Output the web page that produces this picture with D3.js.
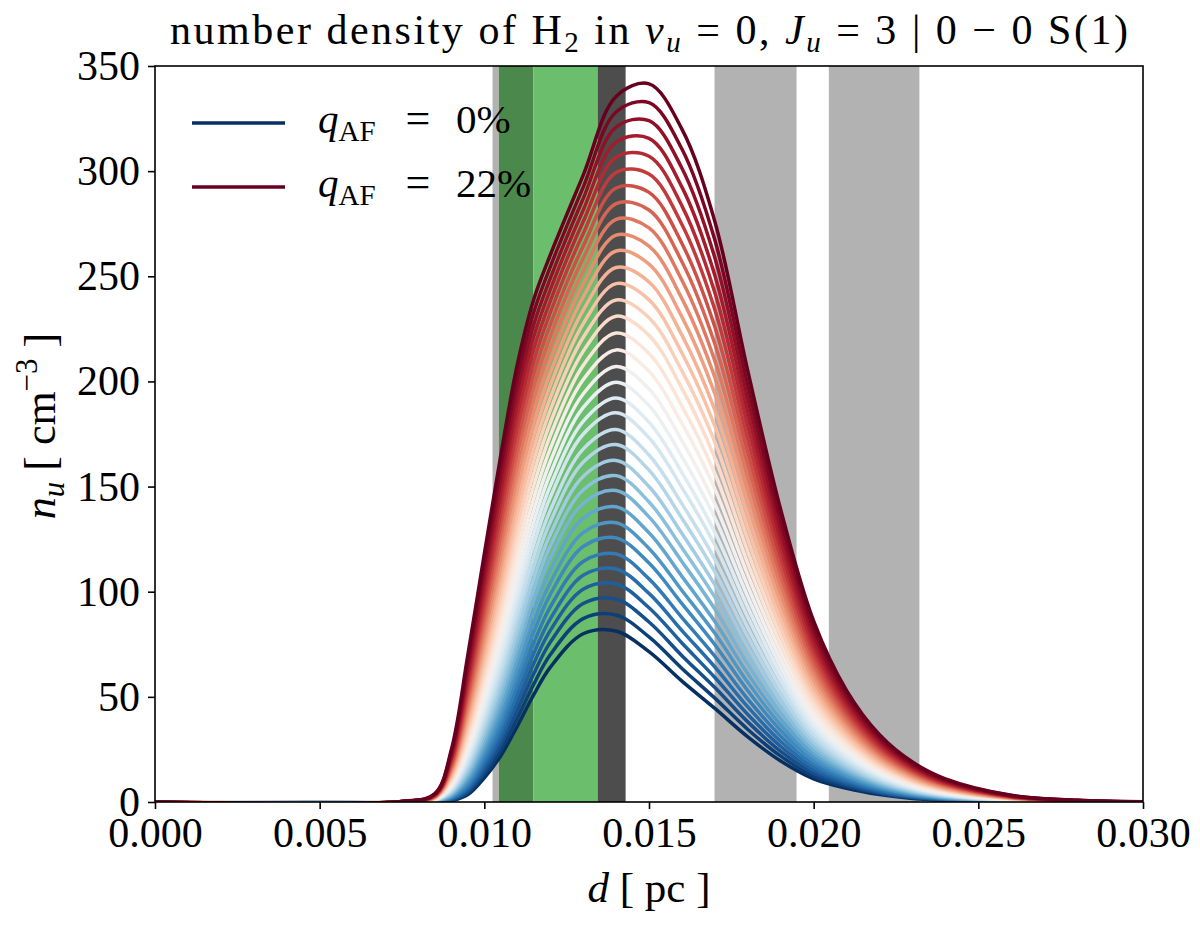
<!DOCTYPE html>
<html>
<head>
<meta charset="utf-8">
<script src="https://cdn.jsdelivr.net/npm/d3@7"></script>
<style>
  body { margin: 0; background: #fff; }
  text { font-family: "Liberation Serif", "DejaVu Serif", serif; fill: #000; }
</style>
</head>
<body>
<svg id="chart" width="1200" height="929"></svg>
<script>
// distance grid [pc] shared by every curve
var dGrid = [0, 0.0075, 0.0085, 0.009, 0.0095, 0.010, 0.0105, 0.011, 0.0115, 0.012, 0.013, 0.014, 0.015,
             0.016, 0.017, 0.018, 0.019, 0.020, 0.021, 0.022, 0.023, 0.024, 0.026, 0.028, 0.030];

// n_u [cm^-3] for each curve, bottom (q_AF = 0%) to top (q_AF = 22%)
var nuCurves = [
  [0, 0, 0.1, 0.6, 3.5, 11.5, 22, 36, 51, 64, 80, 81.3, 71.5, 57.5, 44.5, 31, 19.5, 11, 6.5, 3.5, 1.7, 0.8, 0.2, 0, 0],
  [0, 0, 0.1, 0.8, 4.3, 13.1, 24.6, 39.8, 56.0, 70.0, 87.2, 88.9, 78.5, 63.5, 49.4, 34.5, 21.8, 12.3, 7.3, 4.0, 2.0, 0.9, 0.2, 0, 0],
  [0, 0, 0.2, 1.1, 5.1, 14.8, 27.4, 43.7, 61.0, 75.9, 94.4, 96.5, 85.6, 69.6, 54.4, 38.1, 24.1, 13.7, 8.2, 4.4, 2.2, 1.1, 0.2, 0, 0],
  [0, 0, 0.2, 1.4, 6.0, 16.6, 30.1, 47.5, 65.8, 81.5, 101.2, 103.7, 92.4, 75.6, 59.2, 41.6, 26.4, 15.1, 9.0, 4.9, 2.5, 1.2, 0.3, 0, 0],
  [0, 0, 0.3, 1.7, 6.9, 18.4, 32.8, 51.3, 70.6, 87.0, 107.8, 110.8, 99.2, 81.5, 64.2, 45.2, 28.8, 16.5, 9.9, 5.4, 2.8, 1.4, 0.3, 0, 0],
  [0, 0, 0.3, 2.0, 7.9, 20.3, 35.7, 55.3, 75.5, 92.7, 114.4, 118.0, 106.1, 87.7, 69.3, 48.9, 31.3, 18.0, 10.8, 6.0, 3.1, 1.6, 0.4, 0, 0],
  [0, 0, 0.4, 2.4, 9.0, 22.4, 38.9, 59.5, 80.7, 98.6, 121.5, 125.6, 113.6, 94.3, 74.8, 52.9, 34.0, 19.7, 11.8, 6.6, 3.4, 1.7, 0.4, 0.1, 0],
  [0, 0, 0.5, 2.8, 10.2, 24.5, 41.9, 63.6, 85.6, 104.2, 128.1, 132.8, 120.6, 100.6, 80.2, 56.9, 36.6, 21.2, 12.7, 7.1, 3.7, 1.9, 0.5, 0.1, 0],
  [0, 0, 0.5, 3.2, 11.5, 26.7, 45.2, 68.0, 90.8, 110.1, 135.0, 140.4, 128.0, 107.3, 85.8, 61.0, 39.4, 23.0, 13.8, 7.8, 4.1, 2.1, 0.5, 0.1, 0],
  [0, 0, 0.6, 3.7, 12.8, 29.1, 48.7, 72.4, 96.2, 116.1, 142.0, 148.1, 135.6, 114.3, 91.7, 65.4, 42.3, 24.7, 14.9, 8.4, 4.5, 2.3, 0.6, 0.1, 0],
  [0, 0, 0.7, 4.2, 14.2, 31.5, 52.0, 76.7, 101.2, 121.6, 148.4, 155.2, 142.7, 120.9, 97.4, 69.6, 45.1, 26.5, 15.9, 9.1, 4.9, 2.6, 0.6, 0.1, 0],
  [0, 0, 0.8, 4.7, 15.6, 33.9, 55.5, 81.1, 106.3, 127.2, 154.8, 162.4, 150.0, 127.7, 103.2, 73.9, 48.0, 28.3, 17.0, 9.7, 5.3, 2.8, 0.7, 0.1, 0],
  [0, 0, 0.8, 5.3, 17.2, 36.6, 59.2, 85.8, 111.7, 133.1, 161.6, 170.0, 157.8, 134.9, 109.4, 78.5, 51.2, 30.2, 18.2, 10.4, 5.7, 3.0, 0.8, 0.1, 0],
  [0, 0, 0.9, 5.8, 18.8, 39.2, 62.8, 90.3, 116.8, 138.6, 167.8, 177.1, 165.0, 141.8, 115.4, 82.9, 54.2, 32.1, 19.4, 11.1, 6.1, 3.3, 0.8, 0.2, 0],
  [0, 0, 1.0, 6.4, 20.5, 42.1, 66.8, 95.3, 122.5, 144.8, 174.9, 185.1, 173.2, 149.5, 122.1, 87.9, 57.6, 34.2, 20.7, 11.9, 6.6, 3.6, 0.9, 0.2, 0],
  [0, 0, 1.1, 7.1, 22.2, 44.9, 70.6, 100.0, 127.7, 150.2, 181.0, 192.1, 180.6, 156.6, 128.3, 92.6, 60.8, 36.2, 21.9, 12.7, 7.0, 3.8, 1.0, 0.2, 0],
  [0, 0.1, 1.2, 7.7, 24.1, 47.9, 74.7, 104.9, 133.2, 156.0, 187.5, 199.6, 188.5, 164.2, 135.0, 97.6, 64.2, 38.3, 23.2, 13.5, 7.5, 4.1, 1.1, 0.2, 0],
  [0, 0.1, 1.4, 8.4, 26.0, 51.0, 78.8, 110.0, 138.7, 161.8, 194.0, 207.1, 196.5, 171.9, 141.7, 102.6, 67.7, 40.5, 24.6, 14.3, 8.0, 4.4, 1.2, 0.2, 0],
  [0, 0.1, 1.5, 9.2, 28.0, 54.2, 83.2, 115.3, 144.5, 167.9, 200.8, 215.0, 204.8, 180.0, 148.9, 108.0, 71.3, 42.8, 26.0, 15.2, 8.5, 4.7, 1.3, 0.3, 0],
  [0, 0.1, 1.6, 10.0, 30.1, 57.6, 87.8, 120.7, 150.5, 174.1, 207.6, 223.0, 213.3, 188.3, 156.2, 113.5, 75.1, 45.2, 27.5, 16.1, 9.1, 5.0, 1.4, 0.3, 0],
  [0, 0.1, 1.7, 10.8, 32.3, 61.1, 92.4, 126.2, 156.4, 180.2, 214.3, 231.0, 221.9, 196.7, 163.6, 119.1, 79.0, 47.6, 29.0, 17.0, 9.7, 5.4, 1.5, 0.3, 0],
  [0, 0.1, 1.9, 11.6, 34.6, 64.6, 97.1, 131.7, 162.3, 186.2, 220.9, 238.7, 230.3, 205.0, 171.1, 124.8, 82.9, 50.1, 30.5, 18.0, 10.2, 5.7, 1.6, 0.4, 0],
  [0, 0.1, 2.0, 12.5, 36.9, 68.3, 101.9, 137.3, 168.2, 192.1, 227.4, 246.5, 238.8, 213.5, 178.7, 130.5, 86.8, 52.6, 32.1, 18.9, 10.8, 6.1, 1.7, 0.4, 0],
  [0, 0.1, 2.1, 13.4, 39.3, 72.0, 106.7, 142.9, 174.0, 198.0, 233.8, 254.2, 247.3, 222.0, 186.3, 136.3, 90.9, 55.1, 33.7, 19.9, 11.4, 6.4, 1.8, 0.4, 0],
  [0, 0.1, 2.3, 14.3, 41.8, 75.8, 111.6, 148.6, 180.0, 203.9, 240.1, 262.0, 255.8, 230.7, 194.1, 142.2, 95.0, 57.7, 35.3, 20.9, 12.1, 6.8, 1.9, 0.4, 0],
  [0, 0.1, 2.4, 15.3, 44.3, 79.7, 116.6, 154.4, 185.9, 209.8, 246.3, 269.6, 264.4, 239.4, 201.9, 148.2, 99.1, 60.4, 37.0, 21.9, 12.7, 7.2, 2.0, 0.5, 0],
  [0, 0.1, 2.6, 16.2, 46.9, 83.6, 121.7, 160.1, 191.8, 215.6, 252.4, 277.1, 273.0, 248.1, 209.8, 154.2, 103.3, 63.1, 38.6, 23.0, 13.3, 7.6, 2.1, 0.5, 0],
  [0, 0.1, 2.8, 17.2, 49.6, 87.7, 126.9, 166.0, 197.7, 221.3, 258.4, 284.6, 281.5, 256.9, 217.8, 160.3, 107.6, 65.8, 40.3, 24.0, 14.0, 8.0, 2.3, 0.5, 0],
  [0, 0.1, 2.9, 18.3, 52.3, 91.7, 132.1, 171.8, 203.6, 226.9, 264.3, 292.0, 289.9, 265.6, 225.9, 166.4, 111.9, 68.5, 42.1, 25.1, 14.7, 8.4, 2.4, 0.6, 0],
  [0, 0.2, 3.1, 19.3, 55.1, 96.0, 137.4, 177.7, 209.5, 232.6, 270.2, 299.4, 298.6, 274.6, 234.1, 172.7, 116.3, 71.4, 43.8, 26.2, 15.4, 8.8, 2.5, 0.6, 0],
  [0, 0.2, 3.3, 20.4, 57.9, 100.2, 142.8, 183.7, 215.4, 238.1, 275.9, 306.6, 307.1, 283.5, 242.2, 179.0, 120.7, 74.2, 45.6, 27.3, 16.1, 9.2, 2.6, 0.6, 0],
  [0, 0.2, 3.4, 21.5, 60.8, 104.5, 148.1, 189.6, 221.2, 243.5, 281.4, 313.8, 315.6, 292.4, 250.4, 185.3, 125.1, 77.0, 47.4, 28.5, 16.8, 9.6, 2.8, 0.7, 0],
  [0, 0.2, 3.6, 22.6, 63.8, 108.9, 153.6, 195.6, 227.0, 248.9, 286.9, 320.9, 324.0, 301.4, 258.8, 191.7, 129.6, 80.0, 49.2, 29.6, 17.5, 10.1, 2.9, 0.7, 0],
  [0, 0.2, 3.8, 23.8, 66.8, 113.3, 159.2, 201.7, 232.9, 254.4, 292.3, 328.1, 332.6, 310.5, 267.2, 198.2, 134.2, 82.9, 51.1, 30.8, 18.2, 10.5, 3.1, 0.8, 0],
  [0, 0.2, 4.0, 25.0, 70.0, 118.0, 165.0, 208.0, 239.0, 260.0, 298.0, 335.5, 341.5, 320.0, 276.0, 205.0, 139.0, 86.0, 53.0, 32.0, 19.0, 11.0, 3.2, 0.8, 0.1]
];

// legend entries (first and last curve)
var legendQ = [0, 22];

// shaded distance ranges [pc] and their shade kind
var bandStart = [0.01025, 0.01044, 0.01149, 0.01344, 0.01699, 0.02046];
var bandEnd   = [0.01044, 0.01149, 0.01344, 0.01429, 0.01948, 0.02321];
var bandKind  = ["lightgray", "darkgreen", "lightgreen", "darkgray", "lightgray", "lightgray"];

var xTicks = [0, 0.005, 0.010, 0.015, 0.020, 0.025, 0.030];
var yTicks = [0, 50, 100, 150, 200, 250, 300, 350];

// -------*****--------^^^^-------*****--------
//               layout
// -------*****--------^^^^-------*****--------
var margin = {left: 155, top: 66, right: 57, bottom: 127};
var plotW = 1200 - margin.left - margin.right;
var plotH = 929 - margin.top - margin.bottom;

var shade = {
  lightgray: "#b2b2b2",
  darkgray: "#4d4d4d",
  darkgreen: "#4b884b",
  lightgreen: "#6bbe6b"
};

var svg = d3.select("#chart");

var xScale = d3.scaleLinear().domain([0, 0.030]).range([0, plotW]);
var yScale = d3.scaleLinear().domain([0, 350]).range([plotH, 0]);

var colorOf = function(i) {
  return d3.interpolateRdBu(1 - i / (nuCurves.length - 1));
};

svg.append("defs").append("clipPath")
    .attr("id", "plotClip")
  .append("rect")
    .attr("width", plotW)
    .attr("height", plotH);

var g = svg.append("g")
    .attr("transform", "translate(" + margin.left + "," + margin.top + ")");

// shaded bands
g.selectAll("rect.band")
    .data(bandStart)
  .enter().append("rect")
    .attr("class", "band")
    .attr("x", function(d) { return xScale(d); })
    .attr("width", function(d, i) { return xScale(bandEnd[i]) - xScale(d); })
    .attr("y", 0)
    .attr("height", plotH)
    .attr("fill", function(d, i) { return shade[bandKind[i]]; });

// curves
var line = d3.line()
    .x(function(d, j) { return xScale(dGrid[j]); })
    .y(function(d) { return yScale(d); })
    .curve(d3.curveCatmullRom.alpha(0.5));

g.append("g")
    .attr("clip-path", "url(#plotClip)")
  .selectAll("path")
    .data(nuCurves)
  .enter().append("path")
    .attr("d", line)
    .attr("fill", "none")
    .attr("stroke", function(d, i) { return colorOf(i); })
    .attr("stroke-width", 3.5)
    .attr("stroke-linejoin", "round");

// axes
var xAxis = g.append("g")
    .attr("transform", "translate(0," + plotH + ")")
    .call(d3.axisBottom(xScale).tickValues(xTicks).tickFormat(d3.format(".3f"))
          .tickSize(7).tickPadding(8).tickSizeOuter(0));

var yAxis = g.append("g")
    .call(d3.axisLeft(yScale).tickValues(yTicks).tickFormat(d3.format("d"))
          .tickSize(7).tickPadding(8).tickSizeOuter(0));

[xAxis, yAxis].forEach(function(ax) {
  ax.select(".domain").remove();
  ax.selectAll(".tick line").attr("stroke", "#000").attr("stroke-width", 1.6);
  ax.selectAll(".tick text")
      .attr("font-size", 42)
      .attr("font-family", "Liberation Serif, serif")
      .attr("fill", "#000");
});

// frame
g.append("rect")
    .attr("width", plotW)
    .attr("height", plotH)
    .attr("fill", "none")
    .attr("stroke", "#000")
    .attr("stroke-width", 1.6);

// -------*****--------^^^^-------*****--------
//               legend
// -------*****--------^^^^-------*****--------
var legend = g.append("g");
legendQ.forEach(function(q, k) {
  var idx = k === 0 ? 0 : nuCurves.length - 1;
  var ly = 57 + k * 64;
  legend.append("line")
      .attr("x1", 37).attr("x2", 130)
      .attr("y1", ly).attr("y2", ly)
      .attr("stroke", colorOf(idx))
      .attr("stroke-width", 3.5);
  var t = legend.append("text")
      .attr("x", 163)
      .attr("y", ly + 10)
      .attr("font-size", 41);
  t.append("tspan").attr("font-style", "italic").text("q");
  t.append("tspan").attr("dy", 8).attr("font-size", 29).text("AF");
  legend.append("text")
      .attr("x", 263).attr("y", ly + 10)
      .attr("font-size", 44)
      .attr("text-anchor", "middle")
      .text("=");
  legend.append("text")
      .attr("x", 301).attr("y", ly + 10)
      .attr("font-size", 41)
      .text(q + "%");
});

// -------*****--------^^^^-------*****--------
//               title and axis labels
// -------*****--------^^^^-------*****--------
var title = svg.append("text")
    .attr("x", margin.left + plotW / 2)
    .attr("y", 44)
    .attr("text-anchor", "middle")
    .attr("font-size", 42)
    .attr("textLength", 958)
    .attr("lengthAdjust", "spacing");
title.append("tspan").text("number density of H");
title.append("tspan").attr("dy", 8).attr("font-size", 29).text("2");
title.append("tspan").attr("dy", -8).text(" in ");
title.append("tspan").attr("font-style", "italic").text("\u03bd");
title.append("tspan").attr("dy", 8).attr("font-size", 29).attr("font-style", "italic").text("u");
title.append("tspan").attr("dy", -8).text(" = 0, ");
title.append("tspan").attr("font-style", "italic").text("J");
title.append("tspan").attr("dy", 8).attr("font-size", 29).attr("font-style", "italic").text("u");
title.append("tspan").attr("dy", -8).text(" = 3 | 0 \u2212 0 S(1)");

var xLabel = svg.append("text")
    .attr("x", margin.left + plotW / 2)
    .attr("y", 902)
    .attr("text-anchor", "middle")
    .attr("font-size", 43);
xLabel.append("tspan").attr("font-style", "italic").text("d");
xLabel.append("tspan").text(" [ pc ]");

var yLabel = svg.append("text")
    .attr("transform", "translate(55,426) rotate(-90)")
    .attr("text-anchor", "middle")
    .attr("font-size", 44);
yLabel.append("tspan").attr("font-style", "italic").text("n");
yLabel.append("tspan").attr("dy", 9).attr("font-size", 31).attr("font-style", "italic").text("u");
yLabel.append("tspan").attr("dy", -9).text(" [ cm");
yLabel.append("tspan").attr("dy", -18).attr("font-size", 31).text("\u22123");
yLabel.append("tspan").attr("dy", 18).text(" ]");
</script>
</body>
</html>
